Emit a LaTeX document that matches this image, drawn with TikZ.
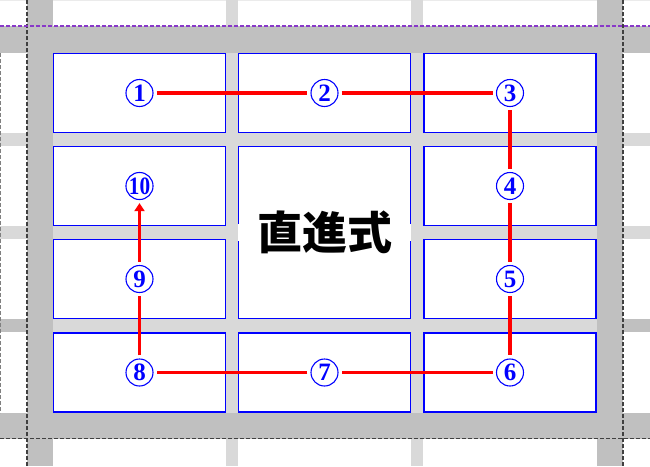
\documentclass[tikz,border=0pt]{standalone}
\usepackage{fontspec}
\setmainfont{Liberation Serif}
\newfontfamily\cjk{Noto Sans CJK JP}
\usetikzlibrary{arrows.meta,calc}
\definecolor{band}{RGB}{192,192,192}
\definecolor{gap}{RGB}{217,217,217}
\definecolor{guide}{RGB}{136,56,200}
\begin{document}
\begin{tikzpicture}[x=1pt,y=-1pt,
    cell/.style={draw=blue,line width=1.8pt,fill=white,minimum width=172pt,minimum height=79pt,inner sep=0pt},
    num/.style={circle,draw=blue,line width=1.1pt,fill=white,text=blue,minimum size=27pt,inner sep=0pt,font=\bfseries\fontsize{25}{25}\selectfont},
    route/.style={red,line width=3.8pt,shorten <=3pt,shorten >=3pt},
    cut/.style={line width=1.3pt,dash pattern=on 4pt off 2pt}]
    \useasboundingbox (0,0) rectangle (650,466);
    \fill[white] (0,0) rectangle (650,466);
    \draw[black!8,line width=1pt] (0,0.5) -- (650,0.5);
    \foreach \a/\b in {133/146,226/239} {
        \fill[gap] (0,\a) rectangle (27,\b);
        \fill[gap] (623,\a) rectangle (650,\b);
    }
    \fill[band] (0,319) rectangle (27,332);
    \fill[band] (623,319) rectangle (650,332);
    \foreach \a/\b in {226/238,411/423} {
        \fill[gap] (\a,0) rectangle (\b,26);
        \fill[gap] (\a,439) rectangle (\b,466);
    }
    \fill[band] (0,26) rectangle (650,53);
    \fill[band] (0,413) rectangle (650,439);
    \fill[band] (27,0) rectangle (53,466);
    \fill[band] (597,0) rectangle (623,466);
    \fill[gap] (53,53) rectangle (597,413);
    \foreach \y [count=\r] in {93,186,279,372.5}
        \foreach \x [count=\c] in {139.5,324.5,510}
            \node[cell] (c\r\c) at (\x,\y) {};
    \fill[white] ([yshift=2pt]c22.south west) rectangle ([yshift=-2pt]c32.north east);
    \node[font=\cjk\bfseries\fontsize{45}{45}\selectfont] (mode) at ($(c22.south)!0.5!(c32.north)$) {直進式};
    \node[num] (n1) at (c11) {1};
    \node[num] (n2) at (c12) {2};
    \node[num] (n3) at (c13) {3};
    \node[num] (n4) at (c23) {4};
    \node[num] (n5) at (c33) {5};
    \node[num] (n6) at (c43) {6};
    \node[num] (n7) at (c42) {7};
    \node[num] (n8) at (c41) {8};
    \node[num] (n9) at (c31) {9};
    \node[num] (n10) at (c21) {\scalebox{0.85}[1]{10}};
    \foreach \a/\b in {1/2,2/3,3/4,4/5,5/6,6/7,7/8,8/9}
        \draw[route] (n\a) -- (n\b);
    \draw[route,-{Triangle[width=10pt,length=8pt]}] (n9) -- (n10);
    \draw[cut,black!75] (27,0) -- (27,466);
    \draw[cut,black!75] (623,0) -- (623,466);
    \draw[cut,black!75] (0,438.5) -- (650,438.5);
    \draw[cut,guide] (0,26) -- (650,26);
    \draw[cut,gray,line width=1pt] (0.5,53) -- (0.5,413);
\end{tikzpicture}
\end{document}
